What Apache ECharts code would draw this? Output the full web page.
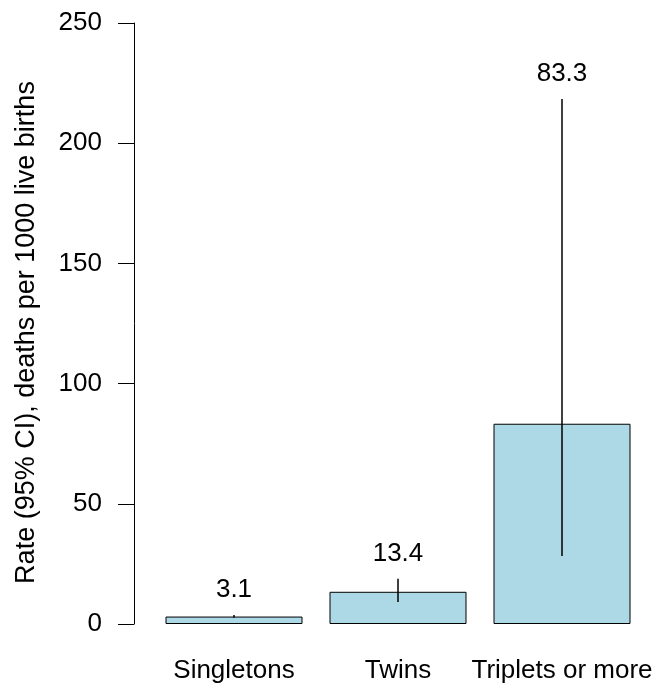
<!DOCTYPE html>
<html>
<head>
<meta charset="utf-8">
<script src="https://cdn.jsdelivr.net/npm/echarts@6/dist/echarts.min.js"></script>
<style>
html,body{margin:0;padding:0;background:#fff;}
#chart{width:659px;height:693px;}
</style>
</head>
<body>
<div id="chart"></div>
<script>
var categories = ['Singletons', 'Twins', 'Triplets or more'];
var rates = [3.1, 13.4, 83.3];
var ciLower = [2.6, 9.2, 28.3];
var ciUpper = [3.7, 18.8, 218.4];
var yMin = 0, yMax = 250, yStep = 50;

var FONT = '"Liberation Sans", Arial, Helvetica, sans-serif';
var errData = categories.map(function (c, i) { return [i, ciLower[i], ciUpper[i], rates[i]]; });

var chart = echarts.init(document.getElementById('chart'), null, {renderer: 'canvas'});
chart.setOption({
  animation: false,
  backgroundColor: '#ffffff',
  grid: {left: 152, right: 15, top: 23, bottom: 69, containLabel: false},
  xAxis: {
    type: 'category',
    data: categories,
    axisLine: {show: false},
    axisTick: {show: false},
    axisLabel: {color: '#000', fontSize: 26, fontFamily: FONT, margin: 34, interval: 0}
  },
  yAxis: {
    type: 'value',
    min: yMin, max: yMax, interval: yStep,
    offset: 18,
    name: 'Rate (95% CI), deaths per 1000 live births',
    nameLocation: 'middle',
    nameGap: 94,
    nameTextStyle: {color: '#000', fontSize: 27, fontFamily: FONT, padding: [0, 18, 0, 0]},
    axisLine: {show: true, lineStyle: {color: '#000', width: 1}},
    axisTick: {show: true, length: 16, lineStyle: {color: '#000', width: 1}},
    axisLabel: {color: '#000', fontSize: 26, fontFamily: FONT, margin: 32},
    splitLine: {show: false}
  },
  series: [
    {
      type: 'bar',
      data: rates,
      barWidth: 137,
      itemStyle: {color: '#ADD8E6', borderColor: '#000', borderWidth: 1}
    },
    {
      type: 'custom',
      data: errData,
      renderItem: function (params, api) {
        var i = api.value(0);
        var lo = api.coord([i, api.value(1)]);
        var hi = api.coord([i, api.value(2)]);
        return {
          type: 'group',
          children: [
            {type: 'line', shape: {x1: lo[0], y1: lo[1], x2: hi[0], y2: hi[1]},
             style: {stroke: '#000', lineWidth: 1.5}},
            {type: 'text', x: hi[0], y: hi[1] - 12,
             style: {text: api.value(3).toFixed(1), fill: '#000', font: '26px ' + FONT,
                     align: 'center', verticalAlign: 'bottom'}}
          ]
        };
      },
      z: 5
    }
  ]
});
</script>
</body>
</html>
